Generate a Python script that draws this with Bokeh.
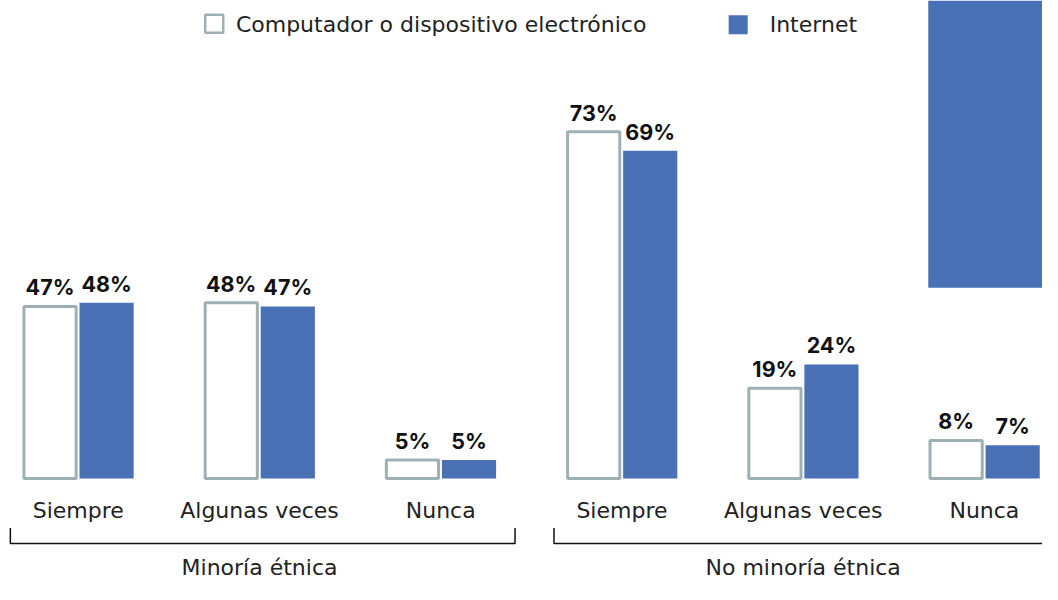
import numpy as np
from bokeh.plotting import figure
from bokeh.models import Range1d, BoxAnnotation, ColumnDataSource
from bokeh.core.properties import value
from bokeh.embed import file_html
from bokeh.resources import INLINE

# ---- data ----
groups = ["Minoría étnica", "No minoría étnica"]
categories = ["Siempre", "Algunas veces", "Nunca"]
series = ["Computador o dispositivo electrónico", "Internet"]
computador_minoria = [47, 48, 5]
internet_minoria = [48, 47, 5]
computador_no_minoria = [73, 19, 8]
internet_no_minoria = [69, 24, 7]

# ---- style ----
BLUE = "#4A71B6"
OUTLINE = "#9DB1B5"
TXT = "#222222"
FONT = "DejaVu Sans"
BOLD_FONT = "Inter"
W, H = 1042, 584
REF_W, REF_H = 1058, 600

# layout helpers (reference-pixel -> data units); layout only
UNIT = 184.0        # px per category slot
X0 = 79.0           # px of first category centre
BASE = 491.0        # px of bar baseline
KL = 3.76           # px per % in the left panel
KR = 4.88           # px per % in the right panel


def px_x(X):
    return (X - X0) / UNIT


def px_y(Y):
    return (BASE - Y) / KL


p = figure(width=W, height=H, output_backend="svg", toolbar_location=None,
           x_axis_type=None, y_axis_type=None, min_border=0,
           x_range=Range1d(px_x(0), px_x(REF_W)),
           y_range=Range1d(px_y(REF_H), px_y(0)))
p.extra_y_ranges = {"right": Range1d(-(REF_H - BASE) / KR, BASE / KR)}
p.outline_line_color = None
p.grid.visible = False
p.background_fill_color = "white"
p.border_fill_color = "white"

ncat = len(categories)
comp_off, int_off = -0.156, 0.156
bw_comp, bw_int = 53 / UNIT, 55 / UNIT

data_sets = [(computador_minoria, internet_minoria, "default"),
             (computador_no_minoria, internet_no_minoria, "right")]

for gi, (comp, inet, rng) in enumerate(data_sets):
    xs = np.arange(ncat) + gi * ncat
    src = ColumnDataSource(dict(
        xc=xs + comp_off, xi=xs + int_off,
        comp=comp, inet=inet,
        comp_lbl=[f"{v}%" for v in comp],
        inet_lbl=[f"{v}%" for v in inet]))
    p.vbar(x="xc", top="comp", bottom=0, width=bw_comp, source=src,
           fill_color="white", line_color=OUTLINE, line_width=3,
           y_range_name=rng)
    p.vbar(x="xi", top="inet", bottom=0, width=bw_int, source=src,
           fill_color=BLUE, line_color=None, y_range_name=rng)
    for xcol, ycol, tcol in (("xc", "comp", "comp_lbl"), ("xi", "inet", "inet_lbl")):
        p.text(x=xcol, y=ycol, text=tcol, source=src, y_range_name=rng,
               text_font=value(BOLD_FONT), text_font_style="bold",
               text_font_size="21.5px", text_color="#111111",
               text_align="center", text_baseline="middle",
               y_offset=-19)

# category labels
cat_x = np.arange(ncat * len(groups))
cat_txt = categories * len(groups)
p.text(x=cat_x, y=[px_y(524)] * len(cat_x), text=cat_txt,
       text_font=value(FONT), text_font_size="22px", text_color=TXT,
       text_align="center", text_baseline="middle")

# group brackets and labels
for gi, g in enumerate(groups):
    x_left = gi * ncat + px_x(10)
    x_right = gi * ncat + (ncat - 1) + 0.41
    yb, yt = px_y(558), px_y(542)
    p.line(x=[x_left, x_left, x_right, x_right], y=[yt, yb, yb, yt],
           line_color="#111111", line_width=1.5)
    p.text(x=[gi * ncat + (ncat - 1) / 2], y=[px_y(583)], text=[g],
           text_font=value(FONT), text_font_size="22px", text_color=TXT,
           text_align="center", text_baseline="middle")

# legend (manual, top)
p.scatter(x=[px_x(217)], y=[px_y(24)], marker="square", size=18,
          fill_color="white", line_color=OUTLINE, line_width=2.5)
p.text(x=[px_x(239)], y=[px_y(25)], text=[series[0]],
       text_font=value(FONT), text_font_size="22px", text_color=TXT,
       text_align="left", text_baseline="middle")
p.scatter(x=[px_x(749)], y=[px_y(25)], marker="square", size=19,
          fill_color=BLUE, line_color=None)
p.text(x=[px_x(781)], y=[px_y(25)], text=[series[1]],
       text_font=value(FONT), text_font_size="22px", text_color=TXT,
       text_align="left", text_baseline="middle")

# decorative blue block at top right
p.add_layout(BoxAnnotation(left=px_x(942), bottom=px_y(295),
                           fill_color=BLUE, fill_alpha=1.0, line_color=None,
                           level="underlay"))

open("out.html", "w").write(file_html(p, INLINE))
